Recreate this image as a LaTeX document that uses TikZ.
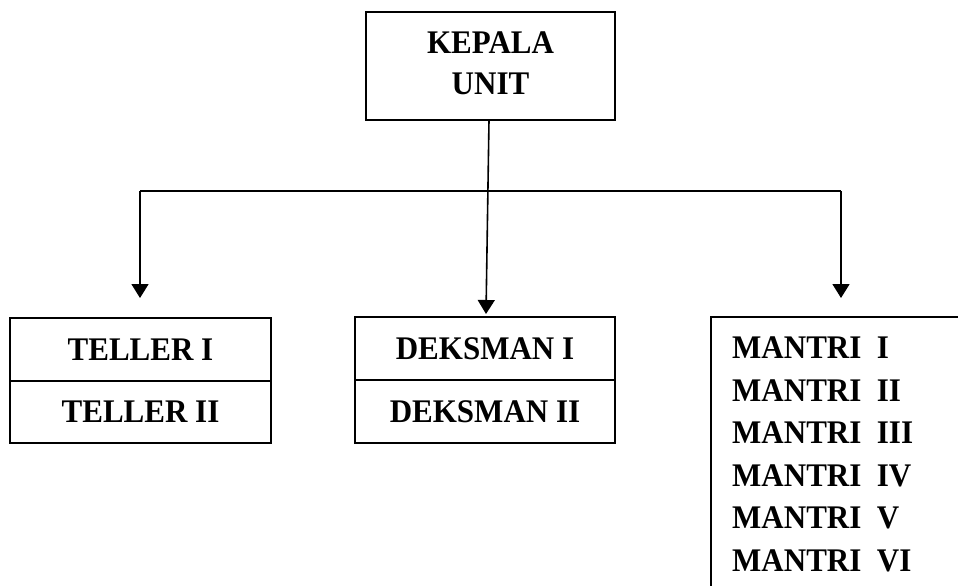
\documentclass[tikz,border=0pt]{standalone}
\usepackage{fontspec}
\setmainfont{Liberation Serif}[FakeStretch=0.94]
\usetikzlibrary{arrows.meta}
\begin{document}
\begin{tikzpicture}[x=1pt,y=-1pt,
  every node/.style={font=\fontsize{33}{41}\selectfont\bfseries},
  box/.style={draw,line width=1.6pt,inner sep=0pt,align=center},
  conn/.style={line width=1.6pt},
  arr/.style={conn,-{Triangle[width=17pt,length=14pt]}}]
\useasboundingbox (0,0) rectangle (958,586);
\clip (0,0) rectangle (958,586);
\fill[white] (0,0) rectangle (958,586);
% top box
\node[box,minimum width=249pt,minimum height=108pt,text depth=6pt] (kepala) at (490.5,66) {KEPALA\\UNIT};
% teller
\node[box,minimum width=261pt,minimum height=63pt] (teller1) at (140.5,349.5) {TELLER I};
\node[box,minimum width=261pt,minimum height=62pt] (teller2) at (140.5,412) {TELLER II};
% deksman
\node[box,minimum width=260pt,minimum height=63pt] (deks1) at (485,348.5) {DEKSMAN I};
\node[box,minimum width=260pt,minimum height=63pt] (deks2) at (485,411.5) {DEKSMAN II};
% mantri
\draw[line width=1.6pt] (711,317) rectangle (980,620);
\foreach \i/\r/\y in {1/I/348,2/II/390.5,3/III/433,4/IV/475.5,5/V/518,6/VI/560.5}{
  \node[anchor=west,inner sep=0pt] (m\i) at (732,\y) {MANTRI\ \ \r};
}
% connectors
\coordinate (jl) at (140,191);
\coordinate (jr) at (841,191);
\coordinate (kb) at (489,120);
\coordinate (dt) at (486,314);
\coordinate (tl) at (140,298);
\coordinate (tr) at (841,298);
\draw[conn] (jl) -- (jr);
\draw[arr] (kb) -- (dt);
\draw[arr] (jl) -- (tl);
\draw[arr] (jr) -- (tr);
\end{tikzpicture}
\end{document}
